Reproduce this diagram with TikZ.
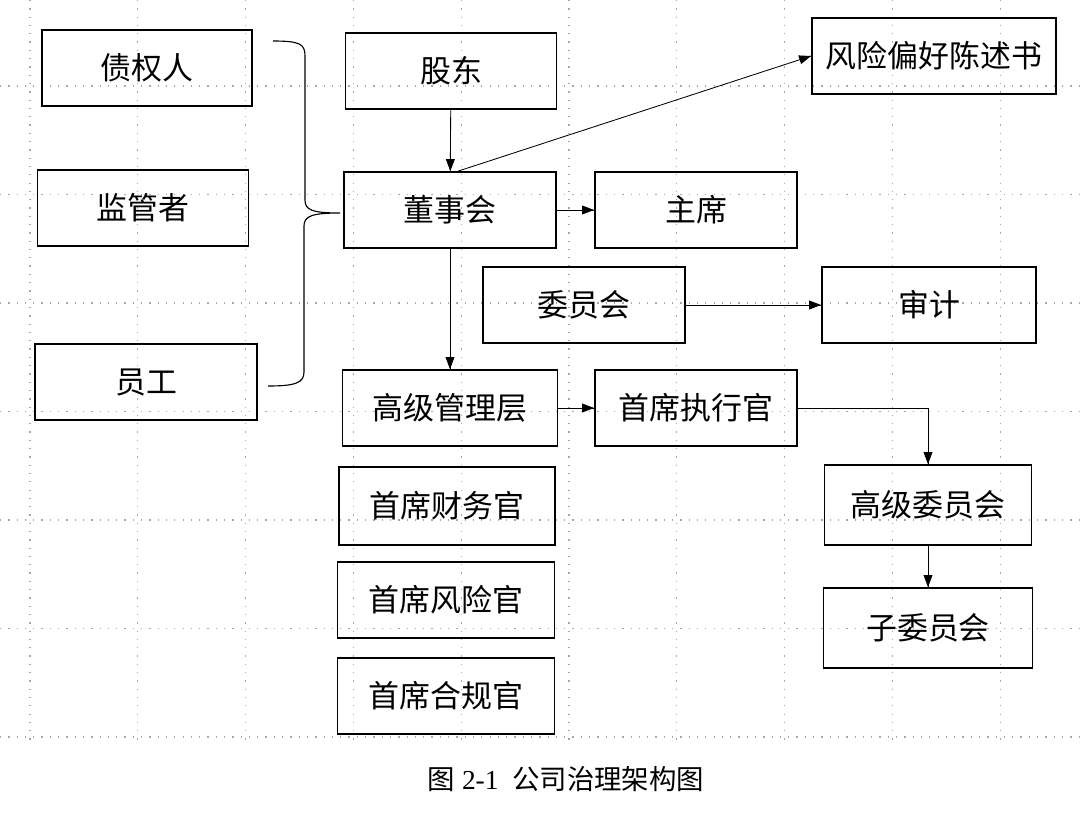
\documentclass[tikz,border=0pt]{standalone}
\usepackage{fontspec}
\setmainfont{Liberation Serif}
\newfontfamily\cjk{Noto Sans CJK SC}
\tikzset{->/.style = {decoration={markings, mark=at position 1 with {\arrow{Triangle[length=3mm,width=2.2mm]}}}, postaction={decorate}}}
\usetikzlibrary{arrows.meta,
                 decorations.markings}

\begin{document}
\begin{tikzpicture}[x=0.025cm, y=-0.025cm,
  box/.style = {draw, line width=1.2pt, minimum height=1.9cm, inner sep=0pt, font=\cjk\fontsize{22}{26}\selectfont},
  dots/.style = {gray!70, line width=0.9pt, dash pattern=on 0.9pt off 5pt},
  link/.style = {line width=0.6pt}]
\useasboundingbox (0,0) rectangle (1080,816);
\foreach \x in {0,...,9} \draw[dots] ({30+107.8*\x},0) -- ({30+107.8*\x},745);
\foreach \y in {0,...,6} \draw[dots] (0,{86+108.5*\y}) -- (1080,{86+108.5*\y});
\node[box, minimum width=5.25cm] (creditor) at (147,68) {债权人};
\node[box, minimum width=5.28cm] (regulator) at (143,208) {监管者};
\node[box, minimum width=5.55cm] (staff) at (146,382) {员工};
\node[box, minimum width=5.28cm] (holder) at (451,71) {股东};
\node[box, minimum width=5.3cm] (board) at (450,210) {董事会};
\node[box, minimum width=6.1cm] (appetite) at (934,56) {风险偏好陈述书};
\node[box, minimum width=5.05cm] (chair) at (696,210) {主席};
\node[box, minimum width=5.05cm] (committee) at (584,305) {委员会};
\node[box, minimum width=5.35cm] (audit) at (929,305) {审计};
\node[box, minimum width=5.38cm] (senior) at (450,408) {高级管理层};
\node[box, minimum width=5.05cm] (ceo) at (696,408) {首席执行官};
\node[box, minimum width=5.18cm, minimum height=2cm] (exec) at (928,505) {高级委员会};
\node[box, minimum width=5.22cm, minimum height=2cm] (sub) at (928,628) {子委员会};
\node[box, minimum width=5.4cm, minimum height=1.95cm] (cfo) at (447,506) {首席财务官};
\node[box, minimum width=5.42cm] (cro) at (446,600) {首席风险官};
\node[box, minimum width=5.42cm] (cco) at (446,696) {首席合规官};
\node[font=\fontsize{19.5}{23}\selectfont] (caption) at (566,779) {{\cjk 图} 2-1\enspace{\cjk 公司治理架构图}};
% brace
\draw[line width=0.8pt] (273,41) .. controls (300,41) and (305,44) .. (305,56) -- (305,200)
  .. controls (305,210) and (312,213) .. (340,213) .. controls (312,213) and (304,216) .. (304,226)
  -- (304,372) .. controls (304,383) and (295,386) .. (268,386);
\draw[link, ->] (holder) -- (board);
\draw[link, ->] ([xshift=0.2cm]board.north) -- (appetite.west);
\draw[link, ->] (board) -- (chair);
\draw[link, ->] (board) -- (senior);
\draw[link, ->] (committee) -- (audit);
\draw[link, ->] (senior) -- (ceo);
\draw[link, ->] (ceo) -| (exec);
\draw[link, ->] (exec) -- (sub);
\end{tikzpicture}
\end{document}
